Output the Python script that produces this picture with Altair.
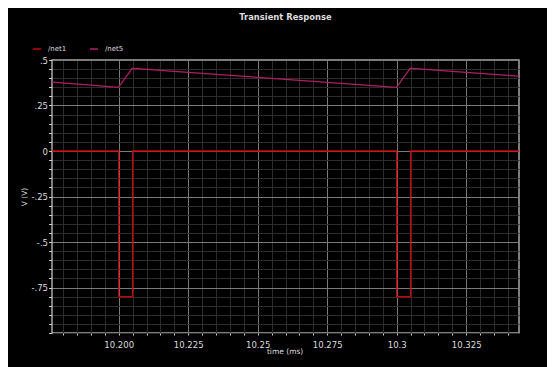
import altair as alt
import pandas as pd

title_text = "Transient Response"
series_names = ["/net1", "/net5"]
series_colors = ["#d00000", "#b01e66"]

# /net1 : square pulses (time in ms, volts)
net1_t = [10.176, 10.200, 10.200, 10.205, 10.205, 10.300, 10.300, 10.305, 10.305, 10.344]
net1_v = [0.0, 0.0, -0.8, -0.8, 0.0, 0.0, -0.8, -0.8, 0.0, 0.0]

# /net5 : sawtooth-like response
net5_t = [10.176, 10.190, 10.1998, 10.2010, 10.2020, 10.2035, 10.2048, 10.2070,
          10.2150, 10.2250, 10.2350, 10.2500, 10.2650, 10.2800, 10.2900, 10.2998,
          10.3010, 10.3020, 10.3035, 10.3048, 10.3070, 10.3150, 10.3250, 10.3350, 10.3440]
net5_v = [0.378, 0.362, 0.350, 0.372, 0.395, 0.425, 0.454, 0.453,
          0.443, 0.432, 0.421, 0.405, 0.388, 0.372, 0.361, 0.350,
          0.372, 0.395, 0.425, 0.454, 0.453, 0.443, 0.432, 0.421, 0.411]

x_domain = [10.176, 10.344]
y_domain = [-1.0, 0.5]
x_major = [10.200, 10.225, 10.250, 10.275, 10.300, 10.325]
x_major_labels = ["10.200", "10.225", "10.25", "10.275", "10.3", "10.325"]
x_ticks = [round(10.180 + 0.005 * i, 3) for i in range(33)]
y_major = [0.5, 0.25, 0.0, -0.25, -0.5, -0.75]
y_major_labels = [".5", ".25", "0", "-.25", "-.5", "-.75"]
y_ticks = [round(-1.0 + 0.05 * i, 2) for i in range(31)]

rows = []
for i, (t, v) in enumerate(zip(net1_t, net1_v)):
    rows.append({"t": t, "v": v, "sig": series_names[0], "i": i})
for i, (t, v) in enumerate(zip(net5_t, net5_v)):
    rows.append({"t": t, "v": v, "sig": series_names[1], "i": i})
df = pd.DataFrame(rows)


def label_expr(vals, labels):
    expr = "''"
    for v, l in reversed(list(zip(vals, labels))):
        expr = f"abs(datum.value - ({v})) < 1e-6 ? '{l}' : ({expr})"
    return expr


def major_test(vals):
    return " || ".join(f"abs(datum.value - ({v})) < 1e-6" for v in vals)


FONT = "DejaVu Sans"
TXT = "#dddddd"
MAJOR = "#7a7a7a"
MINOR = "#2c2c2c"

x_axis = alt.Axis(
    values=x_ticks,
    labelExpr=label_expr(x_major, x_major_labels),
    grid=True,
    gridColor={"condition": {"test": major_test(x_major), "value": MAJOR}, "value": MINOR},
    gridWidth=1,
    domain=False,
    ticks=True,
    tickSize=2,
    tickColor="#cccccc",
    labelFont=FONT,
    labelFontSize=8.5,
    labelColor=TXT,
    labelPadding=5,
    labelOverlap=False,
    labelFlush=False,
    title="time (ms)",
    titleFont=FONT,
    titleFontSize=7.5,
    titleFontWeight="normal",
    titleColor=TXT,
    titleX=232.6,
    titleY=18.7,
    titleBaseline="middle",
    titleAlign="center",
)

y_axis = alt.Axis(
    values=y_ticks,
    labelExpr=label_expr(y_major, y_major_labels),
    grid=True,
    gridColor={"condition": {"test": major_test(y_major), "value": MAJOR}, "value": MINOR},
    gridWidth=1,
    domain=False,
    ticks=True,
    tickSize=3.5,
    tickColor="#cccccc",
    labelFont=FONT,
    labelFontSize=8.5,
    labelColor=TXT,
    labelPadding=1,
    labelOverlap=False,
    labelFlush=False,
    title="V (V)",
    titleFont=FONT,
    titleFontSize=7.5,
    titleFontWeight="normal",
    titleColor=TXT,
    titleX=-28,
    titleY=136.5,
    titleAngle=270,
    titleBaseline="middle",
    titleAlign="center",
)

chart = (
    alt.Chart(df)
    .mark_line(strokeWidth=1.3, clip=True)
    .encode(
        x=alt.X("t:Q", scale=alt.Scale(domain=x_domain, nice=False, zero=False), axis=x_axis),
        y=alt.Y("v:Q", scale=alt.Scale(domain=y_domain, nice=False, zero=False), axis=y_axis),
        color=alt.Color(
            "sig:N",
            scale=alt.Scale(domain=series_names, range=series_colors),
            legend=alt.Legend(
                orient="none",
                legendX=-20,
                legendY=-16,
                direction="horizontal",
                title=None,
                symbolType="stroke",
                symbolSize=64,
                symbolStrokeWidth=1.5,
                labelFont=FONT,
                labelFontSize=7,
                labelColor=TXT,
                labelOffset=6,
                columnPadding=20,
                padding=0,
            ),
        ),
        order="i:Q",
    )
    .properties(
        width=467,
        height=273,
        title=alt.TitleParams(
            text=title_text,
            font=FONT,
            fontSize=8.4,
            fontWeight="bold",
            color=TXT,
            anchor="middle",
            offset=23,
        ),
        padding={"left": 44, "top": 52, "right": 28, "bottom": 34},
        autosize=alt.AutoSizeParams(type="none"),
        background="#000000",
    )
    .configure_view(stroke="#a8a8a8", strokeWidth=1.5, fill="#000000")
)

chart.save("out.html", embed_options={"renderer": "svg", "actions": False})
